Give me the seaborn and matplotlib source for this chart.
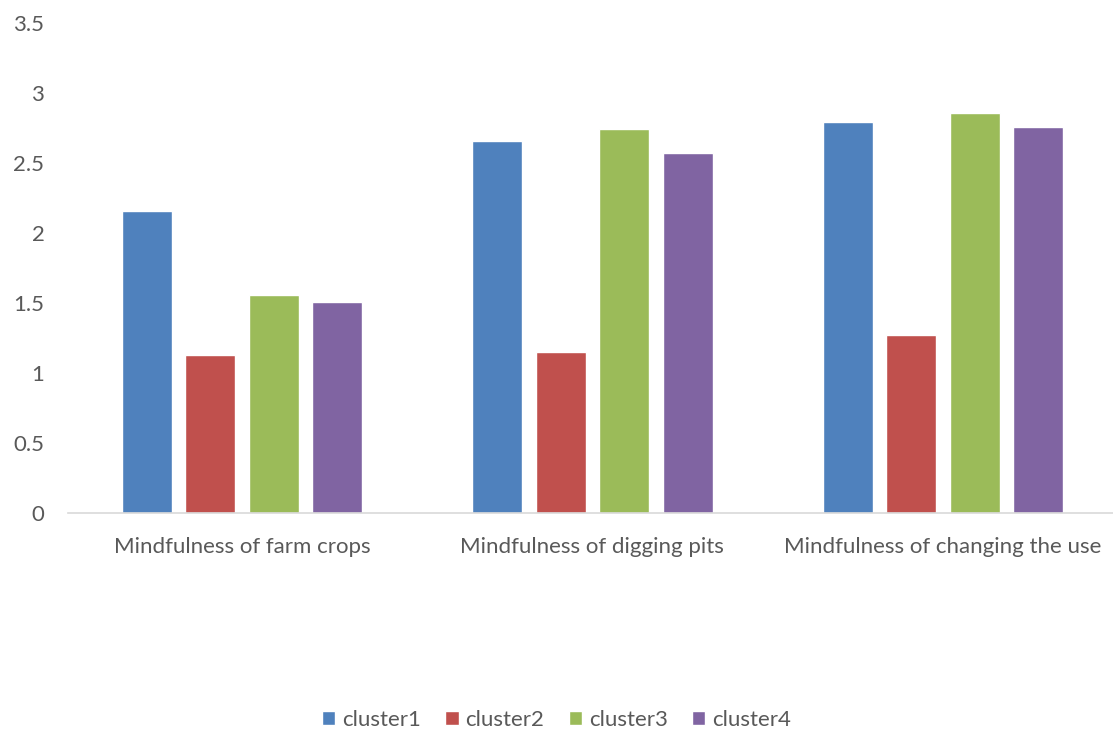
import matplotlib
matplotlib.use("Agg")
import matplotlib.pyplot as plt
import seaborn as sns
import pandas as pd

categories = ["Mindfulness of farm crops", "Mindfulness of digging pits", "Mindfulness of changing the use"]
clusters = ["cluster1", "cluster2", "cluster3", "cluster4"]
cluster1 = [2.16, 2.66, 2.79]
cluster2 = [1.13, 1.15, 1.27]
cluster3 = [1.56, 2.74, 2.86]
cluster4 = [1.51, 2.57, 2.76]
y_ticks = [0, 0.5, 1, 1.5, 2, 2.5, 3, 3.5]

colors = ["#4F81BD", "#C0504D", "#9BBB59", "#8064A2"]

rows = []
for name, vals in zip(clusters, [cluster1, cluster2, cluster3, cluster4]):
    for cat, v in zip(categories, vals):
        rows.append({"category": cat, "cluster": name, "value": v})
df = pd.DataFrame(rows)

sns.set_style("white")
plt.rcParams["font.family"] = ["Lato", "DejaVu Sans"]
text_color = "#595959"

fig = plt.figure(figsize=(11.13, 7.34), dpi=100)
ax = fig.add_axes([68 / 1113, 1 - 513 / 734, 1 - 68 / 1113, (513 - 23) / 734])

sns.barplot(data=df, x="category", y="value", hue="cluster", order=categories,
            hue_order=clusters, palette=colors, width=0.725, gap=0.213,
            saturation=1, ax=ax, legend=True)

ax.set_xlim(-0.496, 2.485)
ax.set_ylim(0, 3.5)
ax.set_yticks(y_ticks)
ax.set_yticklabels([f"{t:g}" for t in y_ticks])
ax.set_xlabel("")
ax.set_ylabel("")
for s in ["top", "right", "left"]:
    ax.spines[s].set_visible(False)
ax.spines["bottom"].set_color("#D9D9D9")
ax.spines["bottom"].set_linewidth(1.2)
ax.tick_params(axis="y", length=0, pad=17, labelsize=16, labelcolor=text_color)
ax.tick_params(axis="x", length=0, pad=17, labelsize=16, labelcolor=text_color)

handles, labels = ax.get_legend_handles_labels()
ax.get_legend().remove()
fig.legend(handles, labels, loc="center", bbox_to_anchor=(0.5, 1 - 720 / 734),
           ncol=4, frameon=False, fontsize=16, labelcolor=text_color,
           handlelength=0.6, handleheight=0.6, handletextpad=0.3, columnspacing=1.1)

fig.savefig("out.png", dpi=100)
